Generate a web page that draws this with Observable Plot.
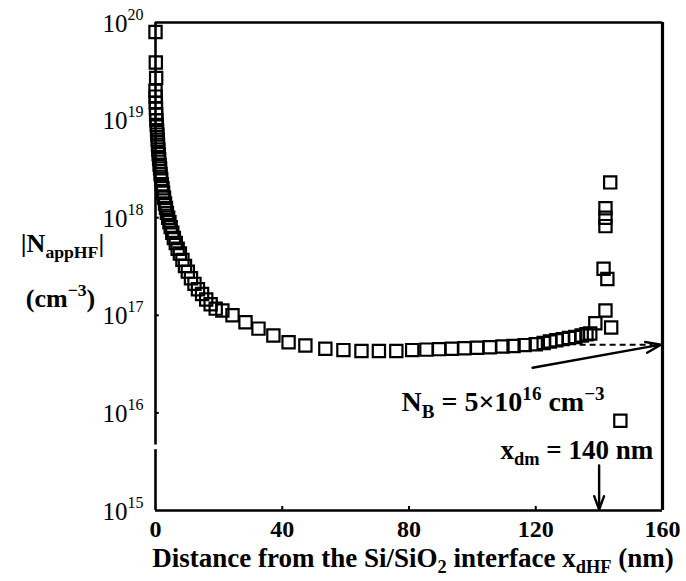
<!DOCTYPE html>
<html><head><meta charset="utf-8">
<script src="https://cdn.jsdelivr.net/npm/d3@7"></script>
<script src="https://cdn.jsdelivr.net/npm/@observablehq/plot@0.6"></script>
<style>body{margin:0;background:#fff} #chart svg{display:block}</style>
</head><body><div id="chart"></div>
<script>
// ---- data ----
const profileX = [0, 0.1, 0.2, 0, 0.05, 0.1, 0.15, 0.2, 0.3, 0.4, 0.5, 0.6, 0.7, 0.8, 0.9, 1.0, 1.15, 1.3, 1.45, 1.6, 1.8, 2.0, 2.2, 2.4, 2.7, 3.0, 3.3, 3.6, 4.0,
  4.4, 4.8, 5.3, 5.8, 6.4, 7.0, 7.7, 8.5, 9.3, 10.2, 11.2, 12.3, 13.4, 14.7, 16.0, 17.4, 19.0,
  21.1, 24.3, 28.4, 32.5, 37.2, 42.0, 47.3, 53.6, 59.3, 65.0, 70.5, 76.0, 81.0, 85.5, 89.5, 93.5, 97.5, 101.5, 105.5, 109.5, 113.0, 116.5, 120.0,
  122.5, 124.5, 126.5, 128.5, 130.5, 132.5, 134.5, 136.0];
const profileN = [8e19, 3.9e19, 2.7e19, 2.0e19, 1.74e19, 1.51e19, 1.32e19, 1.15e19, 1.0e19, 8.9e18, 7.9e18, 7.1e18, 6.3e18, 5.6e18, 5.0e18, 4.5e18, 4.0e18, 3.5e18, 3.2e18, 2.8e18, 2.5e18, 2.2e18, 2.0e18, 1.8e18, 1.6e18, 1.4e18, 1.26e18, 1.12e18, 1.0e18,
  9.0e17, 8.0e17, 7.0e17, 6.2e17, 5.5e17, 4.8e17, 4.3e17, 3.7e17, 3.2e17, 2.8e17, 2.4e17, 2.1e17, 1.85e17, 1.65e17, 1.45e17, 1.3e17, 1.17e17,
  1.12e17, 1.0e17, 8.5e16, 7.3e16, 6.2e16, 5.3e16, 4.9e16, 4.55e16, 4.4e16, 4.3e16, 4.3e16, 4.3e16, 4.4e16, 4.45e16, 4.5e16, 4.55e16, 4.6e16, 4.65e16, 4.7e16, 4.8e16, 4.85e16, 4.95e16, 5.05e16,
  5.2e16, 5.4e16, 5.55e16, 5.7e16, 5.85e16, 6.0e16, 6.2e16, 6.4e16];
const edgeX = [137.2, 138.8, 143.8, 142.0, 142.6, 141.4, 142.0, 142.0, 142.0, 143.5, 146.7];
const edgeN = [6.5e16, 8.3e16, 7.5e16, 1.12e17, 2.35e17, 3.0e17, 8.2e17, 1.0e18, 1.25e18, 2.3e18, 8.3e15];
const xTicks = [0, 40, 80, 120, 160];
const xTickLabels = ["0", "40", "80", "120", "160"];
const yTicks = [1e15, 1e16, 1e17, 1e18, 1e19, 1e20];
const yTickExp = ["15", "16", "17", "18", "19", "20"];
const nB = 5e16;          // N_B
const xdm = 140;          // x_dm (nm)
const leftAxisSegments = [[1e15, 4.2e15], [4.7e15, 1e20]];
const nbArrow = [{x1: 119, y1: 2.9e16, x2: 159.5, y2: nB}];
const nbDash = [{x1: 134, x2: 157}];
const xdmArrow = [{x1: xdm, y1: 2.9e15, x2: xdm, y2: 1.02e15}];

const points = profileX.map((x, i) => ({x, n: profileN[i]}))
  .concat(edgeX.map((x, i) => ({x, n: edgeN[i]})));

const serif = "'Liberation Serif','Times New Roman',serif";
const lw = 2.6;

const plot = Plot.plot({
  width: 686, height: 581,
  marginLeft: 155, marginRight: 24, marginTop: 22, marginBottom: 71,
  x: {domain: [0, 160], axis: null},
  y: {type: "log", domain: [1e15, 1e20], axis: null},
  style: {fontFamily: serif, background: "white", color: "black", overflow: "visible"},
  marks: [
    // frame
    Plot.ruleY([1e20], {stroke: "black", strokeWidth: lw}),
    Plot.ruleY([1e15], {stroke: "black", strokeWidth: lw}),
    Plot.ruleX([160], {stroke: "black", strokeWidth: lw + 0.6}),
    Plot.ruleX(leftAxisSegments, {x: 0, y1: d => d[0], y2: d => d[1], stroke: "black", strokeWidth: lw}),
    // ticks
    Plot.ruleY(yTicks.slice(1, 5), {x1: 0, x2: 1.2, stroke: "black", strokeWidth: 2}),
    Plot.ruleX(xTicks.slice(1, 4), {y1: 1e15, y2: 1.1e15, stroke: "black", strokeWidth: 2}),
    // tick labels
    Plot.text(yTicks, {x: 0, y: d => d, text: () => "10", textAnchor: "end", dx: -28, dy: 1, fontSize: 25}),
    Plot.text(yTicks, {x: 0, y: d => d, text: (d, i) => yTickExp[i], textAnchor: "start", dx: -28, dy: -8, fontSize: 16}),
    Plot.text(xTicks, {x: d => d, y: 1e15, text: (d, i) => xTickLabels[i], dy: 19, fontSize: 24, fontWeight: "bold"}),
    // data
    Plot.dot(points, {x: "x", y: "n", symbol: "square", r: 6.9, stroke: "black", strokeWidth: 2.2, fill: "none"}),
    // annotations
    Plot.ruleY(nbDash, {y: nB, x1: "x1", x2: "x2", stroke: "black", strokeWidth: 2, strokeDasharray: "6,4"}),
    Plot.arrow(nbArrow, {x1: "x1", y1: "y1", x2: "x2", y2: "y2", stroke: "black", strokeWidth: 2.4, headLength: 10, headAngle: 40}),
    Plot.arrow(xdmArrow, {x1: "x1", y1: "y1", x2: "x2", y2: "y2", stroke: "black", strokeWidth: 2.4, headLength: 9, headAngle: 40}),
    Plot.text(["N_{B} = 5×10^{16} cm^{−3}"], {frameAnchor: "top-left", dx: 246, dy: 369, textAnchor: "start", fontSize: 28, fontWeight: "bold"}),
    Plot.text(["x_{dm} = 140 nm"], {frameAnchor: "top-left", dx: 345, dy: 417, textAnchor: "start", fontSize: 27, fontWeight: "bold"}),
    // axis titles
    Plot.text(["Distance from the Si/SiO_{2} interface x_{dHF} (nm)"], {frameAnchor: "bottom", dx: 4, dy: 56, textAnchor: "middle", fontSize: 27, fontWeight: "bold"}),
    Plot.text(["|N_{appHF}|"], {frameAnchor: "left", dx: -93, dy: -23, textAnchor: "middle", fontSize: 26, fontWeight: "bold"}),
    Plot.text(["(cm^{−3})"], {frameAnchor: "left", dx: -95, dy: 32, textAnchor: "middle", fontSize: 26, fontWeight: "bold"})
  ]
});

document.getElementById("chart").appendChild(plot);

// turn _{..} and ^{..} markup into sub/superscript tspans
d3.select(plot).selectAll("text").each(function () {
  const el = d3.select(this);
  const s = el.text();
  if (!/[_^]\{/.test(s)) return;
  const fs = parseFloat(getComputedStyle(this).fontSize) || 23;
  el.text(null);
  const re = /([_^])\{([^}]*)\}/g;
  let last = 0, m, shift = 0;
  const add = (str, kind) => {
    if (!str) return;
    const target = kind === "^" ? -0.42 * fs : kind === "_" ? 0.25 * fs : 0;
    const t = el.append("tspan").text(str);
    if (target !== shift) t.attr("dy", target - shift);
    if (kind) t.attr("font-size", (0.68 * fs) + "px");
    shift = target;
  };
  while ((m = re.exec(s))) {
    add(s.slice(last, m.index), null);
    add(m[2], m[1]);
    last = re.lastIndex;
  }
  add(s.slice(last), null);
});
</script>
</body></html>
